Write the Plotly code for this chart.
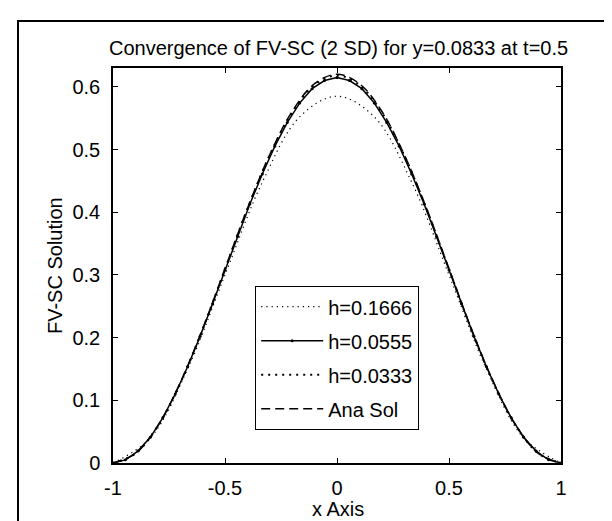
import plotly.graph_objects as go

# ---- data ----
x_coarse = [-1.0, -0.8333, -0.6667, -0.5, -0.3333, -0.1667, 0.0,
            0.1667, 0.3333, 0.5, 0.6667, 0.8333, 1.0]
y_h1666 = [0.0, 0.040, 0.150, 0.300, 0.448, 0.552, 0.585,
           0.552, 0.448, 0.300, 0.150, 0.040, 0.0]

x_mid = [-1.0, -0.9444, -0.8889, -0.8333, -0.7778, -0.7222, -0.6667, -0.6111, -0.5556,
         -0.5, -0.4444, -0.3889, -0.3333, -0.2778, -0.2222, -0.1667, -0.1111, -0.0556,
         0.0,
         0.0556, 0.1111, 0.1667, 0.2222, 0.2778, 0.3333, 0.3889, 0.4444, 0.5,
         0.5556, 0.6111, 0.6667, 0.7222, 0.7778, 0.8333, 0.8889, 0.9444, 1.0]
y_h0555 = [0.0, 0.005, 0.019, 0.041, 0.072, 0.110, 0.154, 0.202, 0.254,
           0.308, 0.361, 0.413, 0.461, 0.505, 0.543, 0.574, 0.597, 0.610,
           0.615,
           0.610, 0.597, 0.574, 0.543, 0.505, 0.461, 0.413, 0.361, 0.308,
           0.254, 0.202, 0.154, 0.110, 0.072, 0.041, 0.019, 0.005, 0.0]

x_fine = [-1.0, -0.9, -0.8, -0.7, -0.6, -0.5, -0.4, -0.3, -0.2, -0.1, 0.0,
          0.1, 0.2, 0.3, 0.4, 0.5, 0.6, 0.7, 0.8, 0.9, 1.0]
y_h0333 = [0.0, 0.015, 0.059, 0.127, 0.213, 0.309, 0.405, 0.491, 0.559, 0.603, 0.618,
           0.603, 0.559, 0.491, 0.405, 0.309, 0.213, 0.127, 0.059, 0.015, 0.0]
y_ana = [0.0, 0.015, 0.059, 0.128, 0.214, 0.310, 0.406, 0.492, 0.561, 0.605, 0.620,
         0.605, 0.561, 0.492, 0.406, 0.310, 0.214, 0.128, 0.059, 0.015, 0.0]

series_names = ["h=0.1666", "h=0.0555", "h=0.0333", "Ana Sol"]

x_tickvals = [-1, -0.5, 0, 0.5, 1]
x_ticktext = ["-1", "-0.5", "0", "0.5", "1"]
y_tickvals = [0, 0.1, 0.2, 0.3, 0.4, 0.5, 0.6]
y_ticktext = ["0", "0.1", "0.2", "0.3", "0.4", "0.5", "0.6"]

title_text = "Convergence of FV-SC (2 SD) for y=0.0833 at t=0.5"
x_label = "x Axis"
y_label = "FV-SC Solution"

FONT = "Liberation Sans, Arial, Helvetica, sans-serif"
FS = 20

fig = go.Figure()
fig.add_trace(go.Scatter(x=x_coarse, y=y_h1666, mode="lines", name=series_names[0],
                         legendgroup="g1",
                         line=dict(color="black", width=1.2, dash="1.2px,4px", shape="spline")))
fig.add_trace(go.Scatter(x=x_mid, y=y_h0555, mode="lines+markers", name=series_names[1],
                         legendgroup="g2",
                         line=dict(color="black", width=1.5),
                         marker=dict(color="black", size=3, symbol="circle")))
fig.add_trace(go.Scatter(x=x_fine, y=y_h0333, mode="lines", name=series_names[2],
                         legendgroup="g3",
                         line=dict(color="black", width=2, dash="2px,5px", shape="spline")))
fig.add_trace(go.Scatter(x=x_fine, y=y_ana, mode="lines", name=series_names[3],
                         legendgroup="g4",
                         line=dict(color="black", width=1.5, dash="9px,5px", shape="spline")))

L, R, T, B = 105, 59, 60, 66
W, H = 612, 521
pw, ph = W - L - R, H - T - B

def px(xp):
    return (xp - L) / pw

def py(yp):
    return (H - B - yp) / ph

axis_common = dict(showline=True, linecolor="black", linewidth=1.5, mirror="ticks",
                   ticks="inside", ticklen=5, tickcolor="black", tickwidth=1,
                   showgrid=False, zeroline=False,
                   tickfont=dict(family=FONT, size=FS, color="black"))

fig.update_xaxes(range=[-1, 1], tickvals=x_tickvals, ticktext=x_ticktext,
                 ticklabelstandoff=6, **axis_common)
fig.update_yaxes(range=[0, 0.63], tickvals=y_tickvals, ticktext=y_ticktext,
                 ticklabelstandoff=7, **axis_common)

fig.add_annotation(text=title_text, xref="paper", yref="paper", x=px(330), y=py(40),
                   xanchor="center", yanchor="middle", showarrow=False,
                   font=dict(family=FONT, size=FS, color="black"))
fig.add_annotation(text=x_label, xref="paper", yref="paper", x=px(330), y=py(501),
                   xanchor="center", yanchor="middle", showarrow=False,
                   font=dict(family=FONT, size=FS, color="black"))
fig.add_annotation(text=y_label, xref="paper", yref="paper", x=px(47), y=py(257),
                   xanchor="center", yanchor="middle", showarrow=False, textangle=-90,
                   font=dict(family=FONT, size=FS, color="black"))

# outer frame of the figure
fig.add_shape(type="rect", xref="paper", yref="paper",
              x0=px(10), x1=px(608), y0=py(518), y1=py(13),
              line=dict(color="black", width=2), layer="below")

fig.update_layout(
    width=W, height=H,
    margin=dict(l=L, r=R, t=T, b=B, autoexpand=False),
    paper_bgcolor="white", plot_bgcolor="white",
    font=dict(family=FONT, size=FS, color="black"),
    showlegend=True,
    legend=dict(x=px(247), y=py(278), xanchor="left", yanchor="top",
                bgcolor="white", bordercolor="black", borderwidth=1.2,
                itemwidth=62, font=dict(family=FONT, size=FS, color="black"),
                tracegroupgap=5),
)

fig.write_html("out.html")
